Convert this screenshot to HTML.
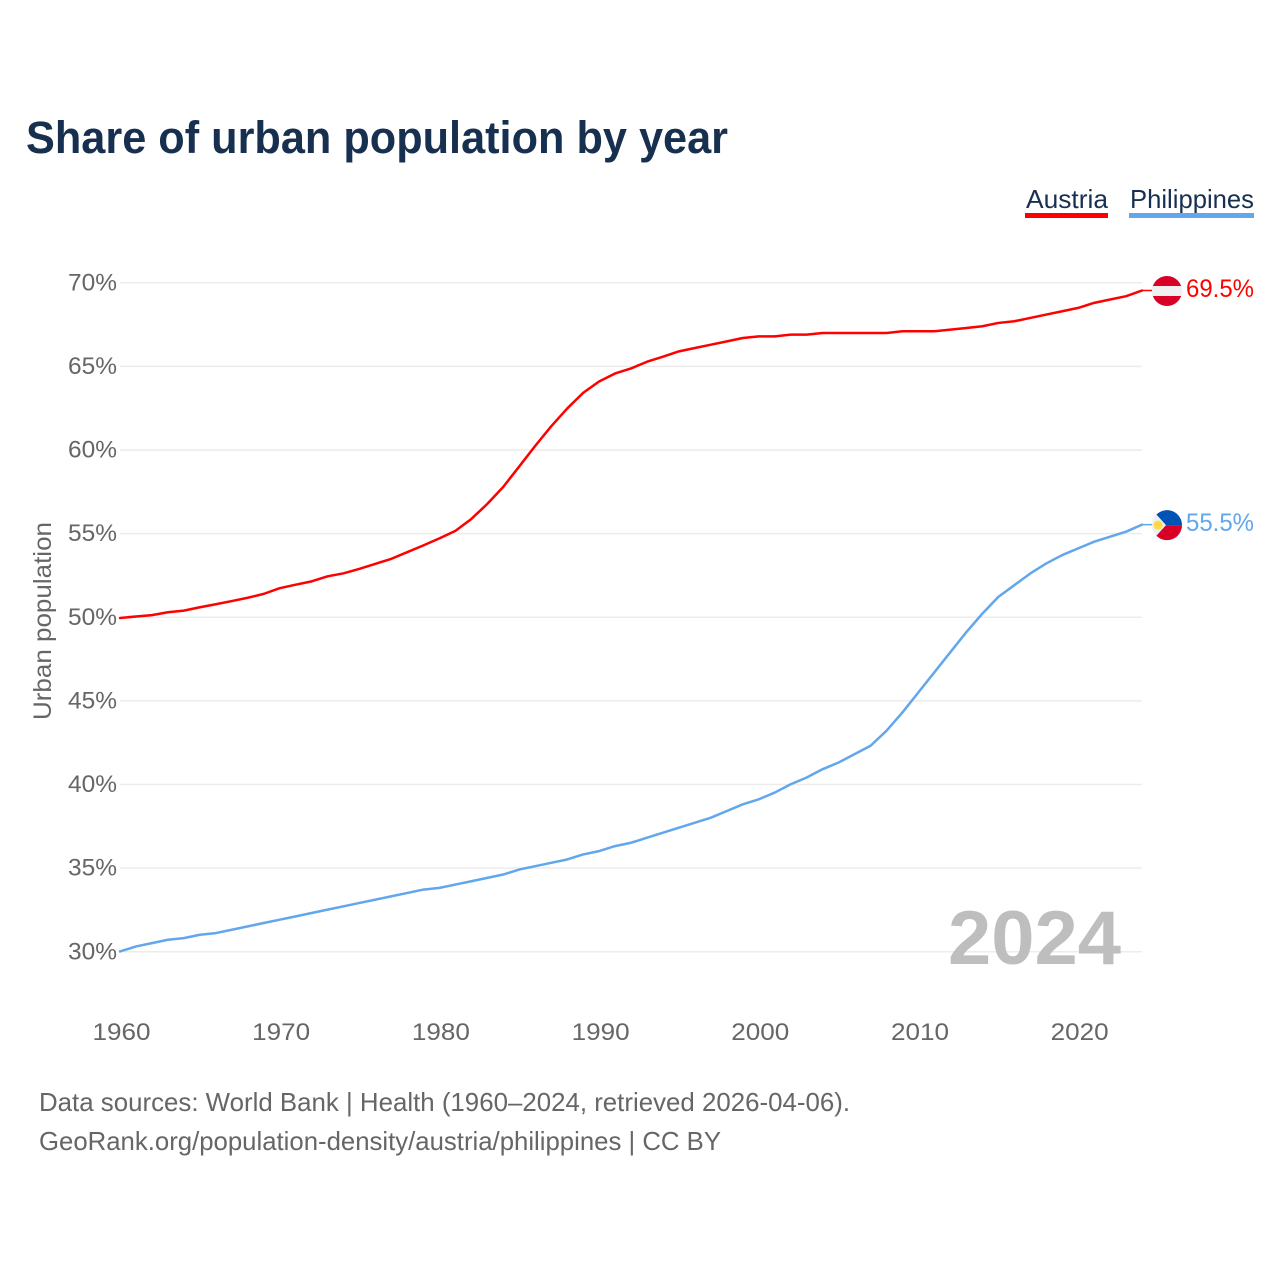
<!DOCTYPE html>
<html lang="en">
<head>
<meta charset="utf-8">
<title>Share of urban population by year</title>
<style>
html,body{margin:0;padding:0;background:#fff;}
svg{display:block;font-family:"Liberation Sans",sans-serif;}
</style>
</head>
<body>
<svg id="chart" width="1280" height="1280" viewBox="0 0 1280 1280" xmlns="http://www.w3.org/2000/svg">
  <rect width="1280" height="1280" fill="#ffffff"/>
  <text x="26" y="153" font-size="45" font-weight="700" fill="#18304f" textLength="702" lengthAdjust="spacingAndGlyphs">Share of urban population by year</text>

  <g>
    <text x="1026" y="208" font-size="26" fill="#18304f" textLength="82" lengthAdjust="spacingAndGlyphs">Austria</text>
    <rect x="1025" y="213" width="83" height="5" fill="#ff0000"/>
  </g>
  <g>
    <text x="1130" y="208" font-size="26" fill="#18304f" textLength="124" lengthAdjust="spacingAndGlyphs">Philippines</text>
    <rect x="1129" y="213" width="125" height="5" fill="#62a6ec"/>
  </g>

  <text transform="translate(51,621) rotate(-90)" text-anchor="middle" font-size="25" fill="#666666" textLength="198" lengthAdjust="spacingAndGlyphs">Urban population</text>

  <g id="grid"></g>
  <g id="yticks"></g>
  <g id="xticks"></g>

  <text x="948" y="964" font-size="76" font-weight="700" fill="#bebebe" textLength="173" lengthAdjust="spacingAndGlyphs">2024</text>

  <g id="series"></g>

  <text x="39" y="1111" font-size="26" fill="#666666" textLength="811" lengthAdjust="spacingAndGlyphs">Data sources: World Bank | Health (1960–2024, retrieved 2026-04-06).</text>
  <text x="39" y="1150" font-size="26" fill="#666666" textLength="682" lengthAdjust="spacingAndGlyphs">GeoRank.org/population-density/austria/philippines | CC BY</text>
</svg>
<script>
const firstYear = 1960;
const yTickValues = [30, 35, 40, 45, 50, 55, 60, 65, 70];
const xTickValues = [1960, 1970, 1980, 1990, 2000, 2010, 2020];
const austriaValues = [
  49.96, 50.05, 50.13, 50.3, 50.4, 50.6, 50.78, 50.97, 51.17, 51.4,
  51.74, 51.95, 52.15, 52.45, 52.63, 52.9, 53.2, 53.5, 53.9, 54.3,
  54.72, 55.17, 55.88, 56.78, 57.8, 59.02, 60.25, 61.42, 62.48, 63.42,
  64.1, 64.58, 64.88, 65.28, 65.58, 65.9, 66.1, 66.3, 66.5, 66.7,
  66.8, 66.8, 66.9, 66.9, 67.0, 67.0, 67.0, 67.0, 67.0, 67.1,
  67.1, 67.1, 67.2, 67.3, 67.4, 67.6, 67.7, 67.9, 68.1, 68.3,
  68.5, 68.8, 69.0, 69.2, 69.54
];
const philippinesValues = [
  30.02, 30.32, 30.52, 30.72, 30.82, 31.02, 31.12, 31.32, 31.52, 31.72,
  31.92, 32.12, 32.32, 32.52, 32.72, 32.92, 33.12, 33.32, 33.52, 33.72,
  33.82, 34.02, 34.22, 34.42, 34.62, 34.92, 35.12, 35.32, 35.52, 35.82,
  36.02, 36.32, 36.52, 36.82, 37.12, 37.42, 37.72, 38.02, 38.42, 38.82,
  39.12, 39.52, 40.02, 40.42, 40.92, 41.32, 41.82, 42.32, 43.22, 44.32,
  45.52, 46.72, 47.92, 49.12, 50.22, 51.22, 51.92, 52.62, 53.22, 53.72,
  54.12, 54.52, 54.82, 55.12, 55.54
];

const NS = 'http://www.w3.org/2000/svg';
function xScale(year) { return 120 + (year - firstYear) * 15.97; }
function yScale(value) { return 951.8 - (value - 30) * 16.725; }
function make(tag, attrs, parent, text) {
  const el = document.createElementNS(NS, tag);
  for (const k in attrs) el.setAttribute(k, attrs[k]);
  if (text !== undefined) el.textContent = text;
  parent.appendChild(el);
  return el;
}

const grid = document.getElementById('grid');
const yticks = document.getElementById('yticks');
const xticks = document.getElementById('xticks');
const series = document.getElementById('series');

yTickValues.forEach(function (v) {
  const line = make('line', { x1: 120, x2: 1142, y1: yScale(v), y2: yScale(v), stroke: '#ececec', 'stroke-width': 1.5 }, grid);
  
  
  const label = make('text', { x: 117, y: yScale(v) + 7.5, 'text-anchor': 'end', 'font-size': 24, fill: '#666666', textLength: 49, lengthAdjust: 'spacingAndGlyphs' }, yticks, v + '%');
  
  
});

xTickValues.forEach(function (y) {
  const label = make('text', { x: xScale(y) + 1.5, y: 1040, 'text-anchor': 'middle', 'font-size': 24, fill: '#666666', textLength: 58, lengthAdjust: 'spacingAndGlyphs' }, xticks, String(y));
  
  
});

function drawSeries(values, color, key, textColor) {
  const d = values.map(function (v, i) {
    return (i ? 'L' : 'M') + xScale(firstYear + i).toFixed(2) + ' ' + yScale(v).toFixed(2);
  }).join(' ');
  const path = make('path', { d: d, fill: 'none', stroke: color, 'stroke-width': 2.5, 'stroke-linejoin': 'round', 'stroke-linecap': 'round' }, series);
  
  

  const last = values[values.length - 1];
  const lx = xScale(firstYear + values.length - 1);
  const ly = yScale(last);
  const conn = make('line', { x1: lx, x2: 1153, y1: ly, y2: ly, stroke: color, 'stroke-width': 1.5 }, series);
  
  

  const g = make('g', { transform: 'translate(1167,' + (ly + 0.5) + ')' }, series);
  
  
  if (key === 'austria') {
    make('circle', { r: 15, fill: '#d80027' }, g);
    make('rect', { x: -15, y: -5, width: 30, height: 10, fill: '#f0f0f0' }, g);
  } else {
    make('circle', { r: 15, fill: '#f0f0f0' }, g);
    make('path', { d: 'M-10.6 -10.6 A15 15 0 0 1 15 0 L-1 0 Z', fill: '#0052b4' }, g);
    make('path', { d: 'M-10.6 10.6 A15 15 0 0 0 15 0 L-1 0 Z', fill: '#d80027' }, g);
    make('circle', { cx: -9, cy: 0, r: 4.5, fill: '#ffda44' }, g);
  }

  const val = make('text', { x: 1186, y: ly + 6.5, 'font-size': 25, fill: textColor, textLength: 68, lengthAdjust: 'spacingAndGlyphs' }, series, last.toFixed(1) + '%');
  
  
}

drawSeries(austriaValues, '#ff0000', 'austria', '#ff0000');
drawSeries(philippinesValues, '#62a6ec', 'philippines', '#62a6ec');
</script>
</body>
</html>
